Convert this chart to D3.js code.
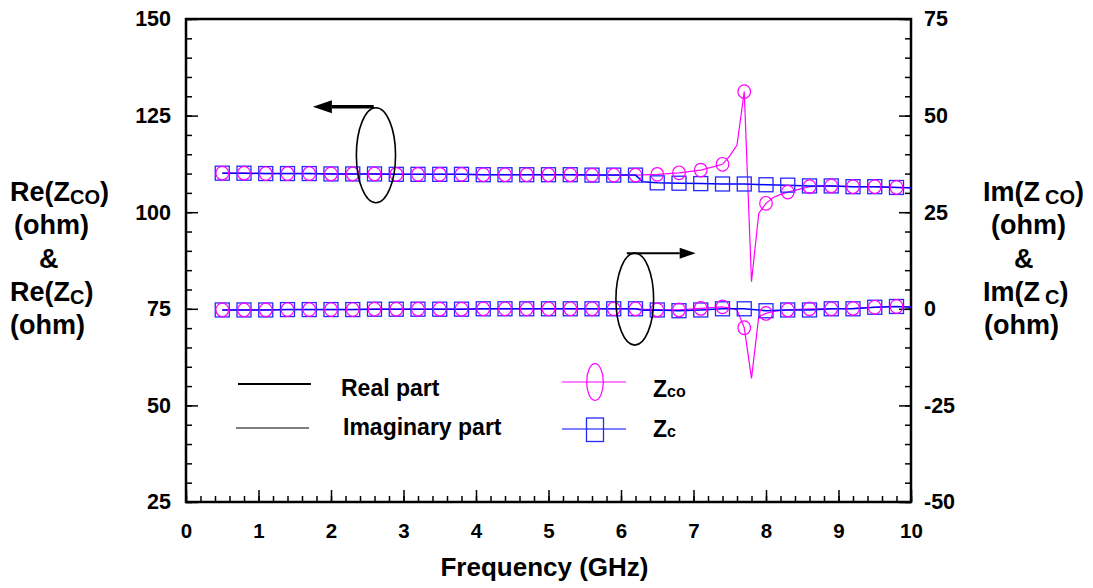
<!DOCTYPE html>
<html>
<head>
<meta charset="utf-8">
<script src="https://cdn.jsdelivr.net/npm/d3@7"></script>
<style>
body { margin: 0; background: #fff; }
svg text { font-family: "Liberation Sans", Arial, sans-serif; font-weight: bold; fill: #000; }
.axis text { font-size: 21.5px; }
.axis.x text { font-size: 20.5px; }
.axis line { stroke: #000; stroke-width: 1.5; }
</style>
</head>
<body>
<div class="chart"></div>
<script>
// frequencies (GHz) where the symbols sit
const markerFreq = [0.5, 0.8, 1.1, 1.4, 1.7, 2.0, 2.3, 2.6, 2.9, 3.2, 3.5, 3.8, 4.1, 4.4, 4.7, 5.0,
    5.3, 5.6, 5.9, 6.2, 6.5, 6.8, 7.1, 7.4, 7.7, 8.0, 8.3, 8.6, 8.9, 9.2, 9.5, 9.8];

// Zco (magenta)
const zcoFreq = [0.5, 0.8, 1.1, 1.4, 1.7, 2.0, 2.3, 2.6, 2.9, 3.2, 3.5, 3.8, 4.1, 4.4, 4.7, 5.0,
    5.3, 5.6, 5.9, 6.2, 6.5, 6.8, 7.1, 7.4, 7.5, 7.6, 7.7, 7.8, 7.9, 8.0, 8.1, 8.2, 8.3, 8.6,
    8.9, 9.2, 9.5, 9.8, 10.0];
const zcoRe = [110.1, 110.1, 110.0, 110.0, 110.0, 109.9, 109.9, 109.9, 109.8, 109.8, 109.8, 109.8,
    109.7, 109.7, 109.7, 109.7, 109.7, 109.6, 109.6, 109.6, 109.8, 110.2, 110.9, 112.4, 114.6,
    117.4, 131.2, 82.0, 99.7, 102.3, 103.8, 104.6, 105.2, 106.6, 106.8, 106.6, 106.6, 106.4, 106.3];
const zcoIm = [-0.3, -0.3, -0.3, -0.2, -0.2, -0.2, -0.2, -0.1, -0.1, -0.1, -0.1, -0.1, 0, 0, 0, 0,
    0, 0, 0, 0, -0.3, -0.3, 0.1, 0.5, 0.2, -0.3, -4.9, -18.0, -2.0, -1.2, -0.7, -0.4, -0.3, 0, 0,
    0.1, 0.4, 0.6, 0.6];

// Zc (blue)
const zcFreq = [0.5, 0.8, 1.1, 1.4, 1.7, 2.0, 2.3, 2.6, 2.9, 3.2, 3.5, 3.8, 4.1, 4.4, 4.7, 5.0,
    5.3, 5.6, 5.9, 6.2, 6.3, 6.5, 6.8, 7.1, 7.4, 7.7, 8.0, 8.3, 8.6, 8.9, 9.2, 9.5, 9.8, 10.0];
const zcRe = [110.1, 110.1, 110.0, 110.0, 110.0, 109.9, 109.9, 109.9, 109.8, 109.8, 109.8, 109.8,
    109.7, 109.7, 109.7, 109.7, 109.7, 109.6, 109.6, 109.6, 107.9, 107.6, 107.5, 107.4, 107.3,
    107.3, 107.1, 107.0, 106.8, 106.8, 106.6, 106.6, 106.4, 106.3];
const zcIm = [-0.3, -0.3, -0.3, -0.2, -0.2, -0.2, -0.2, -0.1, -0.1, -0.1, -0.1, -0.1, 0, 0, 0, 0,
    0, 0, 0, 0, -0.4, -0.3, -0.5, -0.3, 0, 0, -0.5, -0.3, -0.3, 0, 0, 0.4, 0.6, 0.4];

// tick labels
const xTicks = [0, 1, 2, 3, 4, 5, 6, 7, 8, 9, 10];
const leftTicks = [25, 50, 75, 100, 125, 150];
const rightTicks = [-50, -25, 0, 25, 50, 75];

const width = 1093, height = 588;
const margin = {top: 19, right: 182, bottom: 86, left: 186};
const w = width - margin.left - margin.right;
const h = height - margin.top - margin.bottom;

const root = d3.select('.chart')
    .append('svg')
    .attr('width', width)
    .attr('height', height);

let svg = root.append('g')
    .attr('transform', 'translate(' + margin.left + ',' + margin.top + ')');

let xScale = d3.scaleLinear().domain([0, 10]).range([0, w]);
let yLeft = d3.scaleLinear().domain([25, 150]).range([h, 0]);
let yRight = d3.scaleLinear().domain([-50, 75]).range([h, 0]);

const minorX = d3.range(0, 51).map(i => i / 5);
const minorLeft = d3.range(25, 151, 5);
const minorRight = d3.range(-50, 76, 5);

// plain hyphen for negatives, like the original
const plain = d => String(d);

function clean(g) {
    g.select('.domain').remove();
    g.attr('font-size', null).attr('font-family', null);
}

// minor ticks
svg.append('g').attr('class', 'axis').attr('transform', 'translate(0,' + h + ')')
    .call(d3.axisBottom(xScale).tickValues(minorX).tickSize(-6).tickSizeOuter(0).tickFormat(''))
    .call(clean);
svg.append('g').attr('class', 'axis')
    .call(d3.axisLeft(yLeft).tickValues(minorLeft).tickSize(-6).tickSizeOuter(0).tickFormat(''))
    .call(clean);
svg.append('g').attr('class', 'axis').attr('transform', 'translate(' + w + ',0)')
    .call(d3.axisRight(yRight).tickValues(minorRight).tickSize(-6).tickSizeOuter(0).tickFormat(''))
    .call(clean);

// major ticks
svg.append('g').attr('class', 'axis x').attr('transform', 'translate(0,' + h + ')')
    .call(d3.axisBottom(xScale).tickValues(xTicks).tickSize(-12).tickSizeOuter(0).tickPadding(21).tickFormat(plain))
    .call(clean);
svg.append('g').attr('class', 'axis')
    .call(d3.axisLeft(yLeft).tickValues(leftTicks).tickSize(-12).tickSizeOuter(0).tickPadding(15).tickFormat(plain))
    .call(clean);
svg.append('g').attr('class', 'axis').attr('transform', 'translate(' + w + ',0)')
    .call(d3.axisRight(yRight).tickValues(rightTicks).tickSize(-12).tickSizeOuter(0).tickPadding(13).tickFormat(plain))
    .call(clean);

// frame
svg.append('rect')
    .attr('width', w).attr('height', h)
    .attr('fill', 'none').attr('stroke', '#000').attr('stroke-width', 2.5);

// build series
const zco = zcoFreq.map((f, i) => ({f: f, re: zcoRe[i], im: zcoIm[i]}));
const zc = zcFreq.map((f, i) => ({f: f, re: zcRe[i], im: zcIm[i]}));
const isMarker = d => markerFreq.some(m => Math.abs(m - d.f) < 1e-6);

const lineRe = d3.line().x(d => xScale(d.f)).y(d => yLeft(d.re));
const lineIm = d3.line().x(d => xScale(d.f)).y(d => yRight(d.im));

const magenta = '#ff00ff', blue = '#0000ff';

[[zco, magenta, 1.2], [zc, blue, 1.5]].forEach(([data, color, sw]) => {
    svg.append('path').datum(data).attr('d', lineRe)
        .attr('fill', 'none').attr('stroke', color).attr('stroke-width', sw);
    svg.append('path').datum(data).attr('d', lineIm)
        .attr('fill', 'none').attr('stroke', color).attr('stroke-width', sw);
});

// square symbols for Zc
const sq = 7;
[['re', yLeft], ['im', yRight]].forEach(([key, y]) => {
    svg.selectAll('.sq-' + key)
        .data(zc.filter(isMarker))
        .enter()
        .append('rect')
        .attr('class', 'sq-' + key)
        .attr('x', d => xScale(d.f) - sq)
        .attr('y', d => y(d[key]) - sq)
        .attr('width', sq * 2).attr('height', sq * 2)
        .attr('fill', 'none').attr('stroke', '#2626ff').attr('stroke-width', 1.3);
});

// circle symbols for Zco
[['re', yLeft], ['im', yRight]].forEach(([key, y]) => {
    svg.selectAll('.ci-' + key)
        .data(zco.filter(isMarker))
        .enter()
        .append('ellipse')
        .attr('class', 'ci-' + key)
        .attr('cx', d => xScale(d.f))
        .attr('cy', d => y(d[key]))
        .attr('rx', 6.3).attr('ry', 6.8)
        .attr('fill', 'none').attr('stroke', magenta).attr('stroke-width', 1.2);
});

// annotation ellipses and arrows (in data units of the left axis)
const rings = [
    {f: 2.62, v: 114.75, rf: 0.27, rv: 12.3},
    {f: 6.19, v: 77.5, rf: 0.26, rv: 11.9}
];
svg.selectAll('.ring')
    .data(rings)
    .enter()
    .append('ellipse')
    .attr('class', 'ring')
    .attr('cx', d => xScale(d.f))
    .attr('cy', d => yLeft(d.v))
    .attr('rx', d => xScale(d.rf) - xScale(0))
    .attr('ry', d => yLeft(0) - yLeft(d.rv))
    .attr('fill', 'none').attr('stroke', '#000').attr('stroke-width', 1.6);

const arrows = [
    {from: 2.59, to: 1.75, v: 127.3, sw: 3.5, hl: 19, hw: 6.5},
    {from: 6.08, to: 7.03, v: 89.4, sw: 2, hl: 16, hw: 5.5}
];
arrows.forEach(a => {
    const x0 = xScale(a.from), x1 = xScale(a.to), y = yLeft(a.v);
    const dir = x1 > x0 ? 1 : -1;
    svg.append('line')
        .attr('x1', x0).attr('x2', x1 - dir * a.hl)
        .attr('y1', y).attr('y2', y)
        .attr('stroke', '#000').attr('stroke-width', a.sw);
    svg.append('path')
        .attr('d', 'M' + x1 + ',' + y + 'L' + (x1 - dir * a.hl) + ',' + (y - a.hw) +
            'L' + (x1 - dir * a.hl) + ',' + (y + a.hw) + 'Z')
        .attr('fill', '#000');
});

// legend
const leg = root.append('g');
leg.append('line').attr('x1', 238).attr('x2', 311).attr('y1', 384).attr('y2', 384)
    .attr('stroke', '#000').attr('stroke-width', 2);
leg.append('text').attr('x', 341).attr('y', 396).style('font-size', '23px').text('Real part');
leg.append('line').attr('x1', 236).attr('x2', 309).attr('y1', 428).attr('y2', 428)
    .attr('stroke', '#000').attr('stroke-width', 1.2);
leg.append('text').attr('x', 343).attr('y', 435).style('font-size', '23px').text('Imaginary part');

leg.append('line').attr('x1', 562).attr('x2', 626).attr('y1', 382).attr('y2', 382)
    .attr('stroke', magenta).attr('stroke-width', 1.2);
leg.append('ellipse').attr('cx', 595).attr('cy', 382).attr('rx', 8.3).attr('ry', 18.3)
    .attr('fill', 'none').attr('stroke', magenta).attr('stroke-width', 1.2);
let t1 = leg.append('text').attr('x', 653).attr('y', 397).style('font-size', '23px');
t1.append('tspan').text('Z');
t1.append('tspan').style('font-size', '16px').text('co');

leg.append('line').attr('x1', 562).attr('x2', 626).attr('y1', 429).attr('y2', 429)
    .attr('stroke', blue).attr('stroke-width', 1.2);
leg.append('rect').attr('x', 586.5).attr('y', 418).attr('width', 17).attr('height', 23.5)
    .attr('fill', 'none').attr('stroke', '#2626ff').attr('stroke-width', 1.3);
let t2 = leg.append('text').attr('x', 653).attr('y', 437).style('font-size', '23px');
t2.append('tspan').text('Z');
t2.append('tspan').style('font-size', '16px').text('c');

// axis titles
root.append('text')
    .attr('x', (margin.left + margin.left + w) / 2 - 4).attr('y', 576)
    .attr('text-anchor', 'middle').style('font-size', '26px')
    .text('Frequency (GHz)');

function sideLabel(x0, lines) {
    lines.forEach(l => {
        let t = root.append('text').attr('x', x0 + l.dx).attr('y', l.y).style('font-size', '27px');
        t.append('tspan').text(l.main);
        if (l.sub) {
            t.append('tspan').attr('dx', l.gap || 0).attr('dy', 3).style('font-size', '20px').text(l.sub);
            t.append('tspan').attr('dy', -3).text(')');
        }
    });
}
sideLabel(10, [
    {dx: 0, y: 201, main: 'Re(Z', sub: 'CO'},
    {dx: 4, y: 234, main: '(ohm)'},
    {dx: 29, y: 268, main: '&'},
    {dx: 0, y: 301, main: 'Re(Z', sub: 'C'},
    {dx: 0, y: 334, main: '(ohm)'}
]);
sideLabel(983, [
    {dx: 0, y: 201, main: 'Im(Z', sub: 'CO', gap: 5},
    {dx: 8, y: 234, main: '(ohm)'},
    {dx: 31, y: 268, main: '&'},
    {dx: 0, y: 301, main: 'Im(Z', sub: 'C', gap: 5},
    {dx: 1, y: 334, main: '(ohm)'}
]);
</script>
</body>
</html>
